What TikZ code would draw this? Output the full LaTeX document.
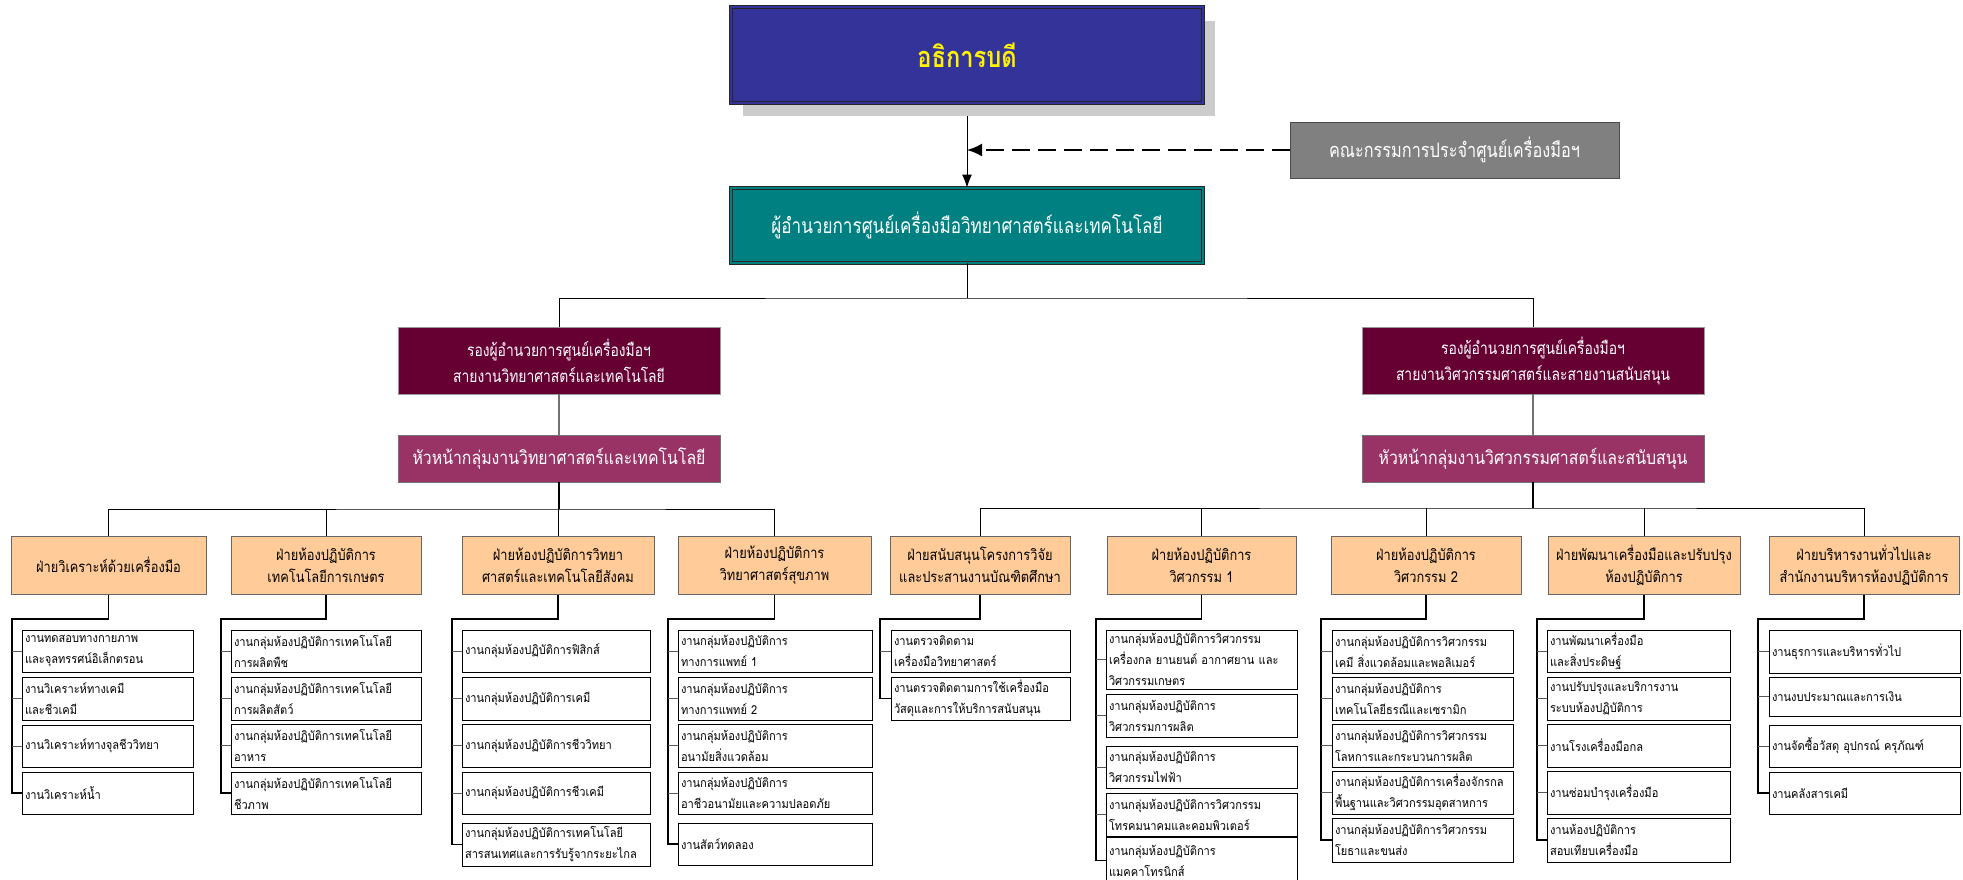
\documentclass[tikz,border=0pt]{standalone}
\usepackage{fontspec}
\newfontfamily\thai[Script=Thai,FakeStretch=0.9]{Loma}
\newfontfamily\thaic[Script=Thai,FakeStretch=0.815]{Loma}
\newfontfamily\thaih[Script=Thai,FakeStretch=0.855]{Loma}
\usetikzlibrary{arrows.meta,calc}
\definecolor{cTop}{HTML}{333399}
\definecolor{cGray}{HTML}{808080}
\definecolor{cTeal}{HTML}{008080}
\definecolor{cLtwo}{HTML}{660033}
\definecolor{cHead}{HTML}{993366}
\definecolor{cHdr}{HTML}{FFCC99}
\definecolor{cShadow}{HTML}{CCCCCC}
\newcommand\cbox[7]{%
  \pgfmathsetmacro\cbW{#5-#3}\pgfmathsetmacro\cbH{#6-#4}%
  \pgfmathsetmacro\cbX{(#3+#5)/2}\pgfmathsetmacro\cbY{(#4+#6)/2}%
  \node[#1, minimum width=\cbW pt, minimum height=\cbH pt] (#2) at (\cbX,\cbY) {#7};}
\newcommand\leafbox[6]{%
  \pgfmathsetmacro\cbW{#4-#2-6}\pgfmathsetmacro\cbH{#5-#3}%
  \pgfmathsetmacro\cbX{(#2+#4)/2}\pgfmathsetmacro\cbY{(#3+#5)/2}%
  \node[leaf, text width=\cbW pt, minimum height=\cbH pt] (#1) at (\cbX,\cbY) {#6};}
\begin{document}
\begin{tikzpicture}[x=1pt,y=-1pt,
  base/.style={inner sep=0pt, align=center},
  topbox/.style={base, fill=cTop, draw=black!85, line width=0.8pt, double=cTop, double distance=2pt,
     text=yellow, font=\thaic\bfseries\fontsize{29}{32}\selectfont},
  tealbox/.style={base, fill=cTeal, draw=black!85, line width=0.8pt, double=cTeal, double distance=2pt,
     text=white, font=\thaic\fontsize{21}{26}\selectfont},
  graybox/.style={base, fill=cGray, draw=black!70, line width=1pt,
     text=white, font=\thaic\fontsize{20}{26}\selectfont},
  ltwo/.style={base, fill=cLtwo, draw=black!40, line width=0.8pt,
     text=white, font=\thaic\fontsize{17}{26}\selectfont},
  headbox/.style={base, fill=cHead, draw=black!55, line width=0.8pt,
     text=white, font=\thaih\fontsize{18.5}{24}\selectfont},
  hdr/.style={base, fill=cHdr, draw=black!60, line width=1pt,
     text=black, font=\thaih\fontsize{15}{22}\selectfont},
  leaf/.style={draw=black, fill=white, line width=1pt, inner xsep=3pt, inner ysep=0pt,
     align=left, font=\thai\fontsize{12.3}{21}\selectfont},
  conn/.style={draw=black, line width=1pt},
  thick conn/.style={draw=black, line width=1.8pt},
  spine/.style={draw=black, line width=1.5pt},
  tick/.style={draw=black!65, line width=1pt},
  arr/.style={-{Latex[length=13pt,width=10pt]}},
]
\useasboundingbox (0,0) rectangle (1963,879);
\fill[white] (0,0) rectangle (1963,879);

% ---- top part
\fill[cShadow] (743,21) rectangle (1215,116);
\cbox{topbox}{top}{731}{7}{1203}{103}{อธิการบดี}
\cbox{graybox}{gray}{1290}{122}{1619}{178}{คณะกรรมการประจำศูนย์เครื่องมือฯ}
\cbox{tealbox}{teal}{731}{188}{1203}{263}{ผู้อำนวยการศูนย์เครื่องมือวิทยาศาสตร์และเทคโนโลยี}
\coordinate (mid) at (top.south |- gray.west);
\draw[conn, arr] ([yshift=-13pt]top.south) -- (teal.north);
\draw[line width=2pt, dash pattern=on 18pt off 8pt, -{Latex[length=15pt,width=13pt]}] (gray.west) -- (mid);

% ---- level 2
\cbox{ltwo}{ltwoL}{398}{327}{720}{394}{รองผู้อำนวยการศูนย์เครื่องมือฯ\\สายงานวิทยาศาสตร์และเทคโนโลยี}
\cbox{ltwo}{ltwoR}{1362}{327}{1704}{394}{รองผู้อำนวยการศูนย์เครื่องมือฯ\\สายงานวิศวกรรมศาสตร์และสายงานสนับสนุน}
\cbox{headbox}{hdL}{398}{435}{720}{482}{หัวหน้ากลุ่มงานวิทยาศาสตร์และเทคโนโลยี}
\cbox{headbox}{hdR}{1362}{435}{1704}{482}{หัวหน้ากลุ่มงานวิศวกรรมศาสตร์และสนับสนุน}
\coordinate (bT) at (0,298);
\draw[conn] (teal.south) -- (teal.south |- bT);
\draw[conn] (ltwoL.north) |- (teal.south |- bT) -| (ltwoR.north);
\draw[draw=black!55, line width=1.3pt] (ltwoL.south) -- (hdL.north);
\draw[draw=black!55, line width=1.3pt] (ltwoR.south) -- (hdR.north);

% ---- column headers
\cbox{hdr}{h1}{11}{536}{206}{594}{ฝ่ายวิเคราะห์ด้วยเครื่องมือ}
\cbox{hdr}{h2}{231}{536}{421}{594}{ฝ่ายห้องปฏิบัติการ\\เทคโนโลยีการเกษตร}
\cbox{hdr}{h3}{462}{536}{654}{594}{ฝ่ายห้องปฏิบัติการวิทยา\\ศาสตร์และเทคโนโลยีสังคม}
\cbox{hdr}{h4}{678}{536}{871}{594}{ฝ่ายห้องปฏิบัติการ\\วิทยาศาสตร์สุขภาพ}
\cbox{hdr}{h5}{890}{536}{1070}{594}{ฝ่ายสนับสนุนโครงการวิจัย\\และประสานงานบัณฑิตศึกษา}
\cbox{hdr}{h6}{1107}{536}{1296}{594}{ฝ่ายห้องปฏิบัติการ\\วิศวกรรม 1}
\cbox{hdr}{h7}{1331}{536}{1521}{594}{ฝ่ายห้องปฏิบัติการ\\วิศวกรรม 2}
\cbox{hdr}{h8}{1548}{536}{1740}{594}{ฝ่ายพัฒนาเครื่องมือและปรับปรุง\\ห้องปฏิบัติการ}
\cbox{hdr}{h9}{1769}{536}{1959}{594}{ฝ่ายบริหารงานทั่วไปและ\\สำนักงานบริหารห้องปฏิบัติการ}

\coordinate (bL) at (0,509);
\coordinate (bR) at (0,508);
\draw[thick conn] (hdL.south) -- (hdL.south |- bL);
\draw[conn] (h1.north) |- (hdL.south |- bL) -| (h4.north);
\draw[conn] (h2.north) -- (h2.north |- bL);
\draw[conn] (h3.north) -- (h3.north |- bL);
\draw[thick conn] (hdR.south) -- (hdR.south |- bR);
\draw[conn] (h5.north) |- (hdR.south |- bR) -| (h9.north);
\draw[conn] (h6.north) -- (h6.north |- bR);
\draw[conn] (h7.north) -- (h7.north |- bR);
\draw[conn] (h8.north) -- (h8.north |- bR);

% ---- leaves column 1
\leafbox{aA}{22}{630}{193}{672}{งานทดสอบทางกายภาพ\\และจุลทรรศน์อิเล็กตรอน}
\leafbox{aB}{22}{677}{193}{720}{งานวิเคราะห์ทางเคมี\\และชีวเคมี}
\leafbox{aC}{22}{725}{193}{767}{งานวิเคราะห์ทางจุลชีววิทยา}
\leafbox{aD}{22}{772}{193}{814}{งานวิเคราะห์น้ำ}
% column 2
\leafbox{bA}{231}{630}{421}{672}{งานกลุ่มห้องปฏิบัติการเทคโนโลยี\\การผลิตพืช}
\leafbox{bB}{231}{677}{421}{720}{งานกลุ่มห้องปฏิบัติการเทคโนโลยี\\การผลิตสัตว์}
\leafbox{bC}{231}{724}{421}{767}{งานกลุ่มห้องปฏิบัติการเทคโนโลยี\\อาหาร}
\leafbox{bD}{231}{772}{421}{814}{งานกลุ่มห้องปฏิบัติการเทคโนโลยี\\ชีวภาพ}
% column 3
\leafbox{cA}{462}{630}{650}{672}{งานกลุ่มห้องปฏิบัติการฟิสิกส์}
\leafbox{cB}{462}{677}{650}{720}{งานกลุ่มห้องปฏิบัติการเคมี}
\leafbox{cC}{462}{724}{650}{767}{งานกลุ่มห้องปฏิบัติการชีววิทยา}
\leafbox{cD}{462}{772}{650}{814}{งานกลุ่มห้องปฏิบัติการชีวเคมี}
\leafbox{cE}{462}{823}{650}{866}{งานกลุ่มห้องปฏิบัติการเทคโนโลยี\\สารสนเทศและการรับรู้จากระยะไกล}
% column 4
\leafbox{dA}{678}{630}{872}{672}{งานกลุ่มห้องปฏิบัติการ\\ทางการแพทย์ 1}
\leafbox{dB}{678}{677}{872}{720}{งานกลุ่มห้องปฏิบัติการ\\ทางการแพทย์ 2}
\leafbox{dC}{678}{724}{872}{767}{งานกลุ่มห้องปฏิบัติการ\\อนามัยสิ่งแวดล้อม}
\leafbox{dD}{678}{772}{872}{814}{งานกลุ่มห้องปฏิบัติการ\\อาชีวอนามัยและความปลอดภัย}
\leafbox{dE}{678}{823}{872}{865}{งานสัตว์ทดลอง}
% column 5
\leafbox{eA}{891}{630}{1070}{672}{งานตรวจติดตาม\\เครื่องมือวิทยาศาสตร์}
\leafbox{eB}{891}{677}{1070}{720}{งานตรวจติดตามการใช้เครื่องมือ\\วัสดุและการให้บริการสนับสนุน}
% column 6
\leafbox{fA}{1106}{630}{1297}{689}{งานกลุ่มห้องปฏิบัติการวิศวกรรม\\เครื่องกล ยานยนต์ อากาศยาน และ\\วิศวกรรมเกษตร}
\leafbox{fB}{1106}{694}{1297}{737}{งานกลุ่มห้องปฏิบัติการ\\วิศวกรรมการผลิต}
\leafbox{fC}{1106}{746}{1297}{788}{งานกลุ่มห้องปฏิบัติการ\\วิศวกรรมไฟฟ้า}
\leafbox{fD}{1106}{793}{1297}{836}{งานกลุ่มห้องปฏิบัติการวิศวกรรม\\โทรคมนาคมและคอมพิวเตอร์}
\leafbox{fE}{1106}{837}{1297}{884}{งานกลุ่มห้องปฏิบัติการ\\แมคคาโทรนิกส์}
% column 7
\leafbox{gA}{1332}{630}{1513}{673}{งานกลุ่มห้องปฏิบัติการวิศวกรรม\\เคมี สิ่งแวดล้อมและพอลิเมอร์}
\leafbox{gB}{1332}{677}{1513}{720}{งานกลุ่มห้องปฏิบัติการ\\เทคโนโลยีธรณีและเซรามิก}
\leafbox{gC}{1332}{724}{1513}{767}{งานกลุ่มห้องปฏิบัติการวิศวกรรม\\โลหการและกระบวนการผลิต}
\leafbox{gD}{1332}{771}{1513}{814}{งานกลุ่มห้องปฏิบัติการเครื่องจักรกล\\พื้นฐานและวิศวกรรมอุตสาหการ}
\leafbox{gE}{1332}{818}{1513}{862}{งานกลุ่มห้องปฏิบัติการวิศวกรรม\\โยธาและขนส่ง}
% column 8
\leafbox{hA}{1547}{630}{1730}{672}{งานพัฒนาเครื่องมือ\\และสิ่งประดิษฐ์}
\leafbox{hB}{1547}{677}{1730}{720}{งานปรับปรุงและบริการงาน\\ระบบห้องปฏิบัติการ}
\leafbox{hC}{1547}{724}{1730}{767}{งานโรงเครื่องมือกล}
\leafbox{hD}{1547}{771}{1730}{814}{งานซ่อมบำรุงเครื่องมือ}
\leafbox{hE}{1547}{818}{1730}{862}{งานห้องปฏิบัติการ\\สอบเทียบเครื่องมือ}
% column 9
\leafbox{iA}{1769}{630}{1960}{673}{งานธุรการและบริหารทั่วไป}
\leafbox{iB}{1769}{677}{1960}{716}{งานงบประมาณและการเงิน}
\leafbox{iC}{1769}{725}{1960}{767}{งานจัดซื้อวัสดุ อุปกรณ์ ครุภัณฑ์}
\leafbox{iD}{1769}{772}{1960}{814}{งานคลังสารเคมี}

% ---- leaf connectors
\coordinate (sa) at (12,619);
\coordinate (sb) at (221,619);
\coordinate (sc) at (452,619);
\coordinate (sd) at (668,619);
\coordinate (se) at (880,619);
\coordinate (sf) at (1096,619);
\coordinate (sg) at (1321,619);
\coordinate (sh) at (1537,619);
\coordinate (si) at (1758,619);
\draw[spine] (h1.south) |- (sa) |- (aD.west);
\draw[spine] (h2.south) |- (sb) |- (bD.west);
\draw[spine] (h3.south) |- (sc) |- (cE.west);
\draw[spine] (h4.south) |- (sd) |- (dE.west);
\draw[spine] (h5.south) |- (se) |- (eB.west);
\draw[spine] (h6.south) |- (sf) |- (fE.west);
\draw[spine] (h7.south) |- (sg) |- (gE.west);
\draw[spine] (h8.south) |- (sh) |- (hE.west);
\draw[spine] (h9.south) |- (si) |- (iD.west);
\foreach \n in {aA,aB,aC} \draw[tick] (\n.west) -- (\n.west -| sa);
\foreach \n in {bA,bB,bC} \draw[tick] (\n.west) -- (\n.west -| sb);
\foreach \n in {cA,cB,cC,cD} \draw[tick] (\n.west) -- (\n.west -| sc);
\foreach \n in {dA,dB,dC,dD} \draw[tick] (\n.west) -- (\n.west -| sd);
\foreach \n in {eA} \draw[tick] (\n.west) -- (\n.west -| se);
\foreach \n in {fA,fB,fC,fD} \draw[tick] (\n.west) -- (\n.west -| sf);
\foreach \n in {gA,gB,gC,gD} \draw[tick] (\n.west) -- (\n.west -| sg);
\foreach \n in {hA,hB,hC,hD} \draw[tick] (\n.west) -- (\n.west -| sh);
\foreach \n in {iA,iB,iC} \draw[tick] (\n.west) -- (\n.west -| si);
\end{tikzpicture}
\end{document}
